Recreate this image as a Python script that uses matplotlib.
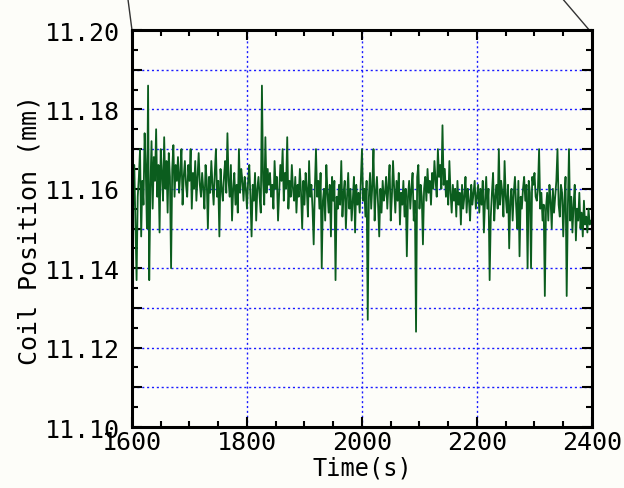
import numpy as np
import matplotlib
matplotlib.use("Agg")
import matplotlib.pyplot as plt
from matplotlib.ticker import MultipleLocator, FuncFormatter

# coil position, sampled every 2 s, in um above 11.100 mm
t_start = 1600
t_step = 2
pos_um = [
    60, 55, 66, 52, 37, 58, 63, 70, 48, 62, 56, 74, 65, 50, 86, 37, 60, 72, 55, 68,
    62, 75, 58, 66, 49, 70, 64, 57, 73, 60, 67, 54, 69, 63, 40, 65, 71, 58, 66, 62,
    68, 59, 64, 70, 56, 63, 67, 61, 58, 66, 62, 70, 55, 64, 60, 67, 57, 63, 69, 61,
    58, 64, 60, 55, 66, 62, 50, 63, 59, 67, 61, 56, 64, 70, 58, 62, 48, 65, 60, 57,
    63, 67, 59, 74, 62, 58, 66, 52, 60, 64, 56, 61, 54, 70, 59, 65, 62, 57, 63, 60,
    55, 62, 66, 58, 48, 61, 57, 64, 52, 60, 63, 58, 54, 86, 62, 56, 73, 59, 65, 61,
    64, 58, 61, 55, 67, 60, 63, 52, 59, 66, 62, 70, 57, 64, 60, 73, 55, 62, 58, 66,
    60, 57, 63, 54, 61, 58, 65, 59, 50, 62, 56, 64, 60, 53, 67, 58, 61, 55, 46, 60,
    70, 58, 62, 55, 64, 40, 57, 60, 52, 66, 59, 54, 61, 48, 63, 57, 62, 37, 58, 55,
    61, 56, 67, 53, 59, 62, 50, 58, 64, 55, 60, 52, 57, 63, 49, 61, 56, 59, 54, 62,
    70, 57, 60, 53, 62, 27, 58, 64, 55, 61, 70, 52, 59, 63, 56, 48, 60, 54, 62, 57,
    59, 63, 55, 61, 66, 52, 58, 67, 60, 54, 62, 57, 64, 51, 59, 56, 62, 53, 60, 43,
    58, 62, 55, 60, 64, 52, 57, 24, 63, 66, 55, 61, 58, 46, 60, 63, 57, 65, 59, 62,
    56, 64, 60, 67, 62, 58, 70, 63, 66, 60, 76, 61, 65, 58, 62, 56, 67, 59, 54, 61,
    57, 60, 53, 62, 56, 59, 51, 61, 55, 58, 63, 54, 60, 57, 52, 61, 56, 59, 62, 55,
    58, 61, 54, 60, 56, 62, 49, 57, 63, 55, 60, 37, 53, 59, 64, 52, 58, 61, 55, 70,
    56, 62, 59, 53, 67, 58, 54, 61, 45, 57, 60, 52, 59, 63, 56, 50, 62, 43, 58, 55,
    60, 63, 57, 61, 40, 62, 59, 40, 63, 61, 64, 58, 57, 60, 70, 55, 59, 52, 56, 33,
    55, 59, 52, 61, 57, 50, 60, 54, 58, 62, 70, 56, 53, 61, 59, 48, 57, 63, 33, 55,
    70, 52, 58, 49, 56, 61, 47, 55, 52, 59, 50, 54, 48, 57, 51, 53, 49, 55, 51, 52,
    52,
]

t = t_start + t_step * np.arange(len(pos_um))
pos_mm = 11.100 + np.array(pos_um) / 1000.0

bg = "#fdfdf9"
plt.rcParams["font.family"] = ["DejaVu Sans Mono"]

fig = plt.figure(figsize=(6.24, 4.89), dpi=100, facecolor=bg)
ax = fig.add_axes([0.2115, 0.1247, 0.7372, 0.8119], facecolor=bg)

ax.plot(t, pos_mm, color="#0b5d1e", lw=1.3)

ax.set_xlim(1600, 2400)
ax.set_ylim(11.10, 11.20)

ax.xaxis.set_major_locator(MultipleLocator(200))
ax.xaxis.set_minor_locator(MultipleLocator(50))
ax.yaxis.set_major_locator(MultipleLocator(0.01))
ax.yaxis.set_minor_locator(MultipleLocator(0.005))


def ylab(v, pos):
    k = int(round(v * 100))
    return "%.2f" % v if k % 2 == 0 else ""


ax.yaxis.set_major_formatter(FuncFormatter(ylab))
ax.xaxis.set_major_formatter(FuncFormatter(lambda v, p: "%d" % v))

ax.grid(True, which="major", color="#1a1aff", linestyle=(0, (1.5, 2.0)), lw=1.0)

ax.tick_params(which="both", direction="in", top=True, right=True, colors="black")
ax.tick_params(which="major", length=7, width=1.5, labelsize=18)
ax.tick_params(axis="y", which="major", pad=9)
ax.tick_params(axis="x", which="major", pad=2)
ax.tick_params(which="minor", length=4, width=1.5)
for s in ax.spines.values():
    s.set_linewidth(2.2)

ax.set_ylabel("Coil Position (mm)", fontsize=18, labelpad=2)
ax.set_xlabel("Time(s)", fontsize=17, labelpad=1)

# connector lines of the zoomed view
ax.plot([0.0, -0.009], [1.0, 1.08], color="#333333", lw=1.0,
        transform=ax.transAxes, clip_on=False)
ax.plot([0.994, 0.935], [1.0, 1.08], color="#333333", lw=1.0,
        transform=ax.transAxes, clip_on=False)

fig.savefig("out.png", dpi=100, facecolor=bg)
